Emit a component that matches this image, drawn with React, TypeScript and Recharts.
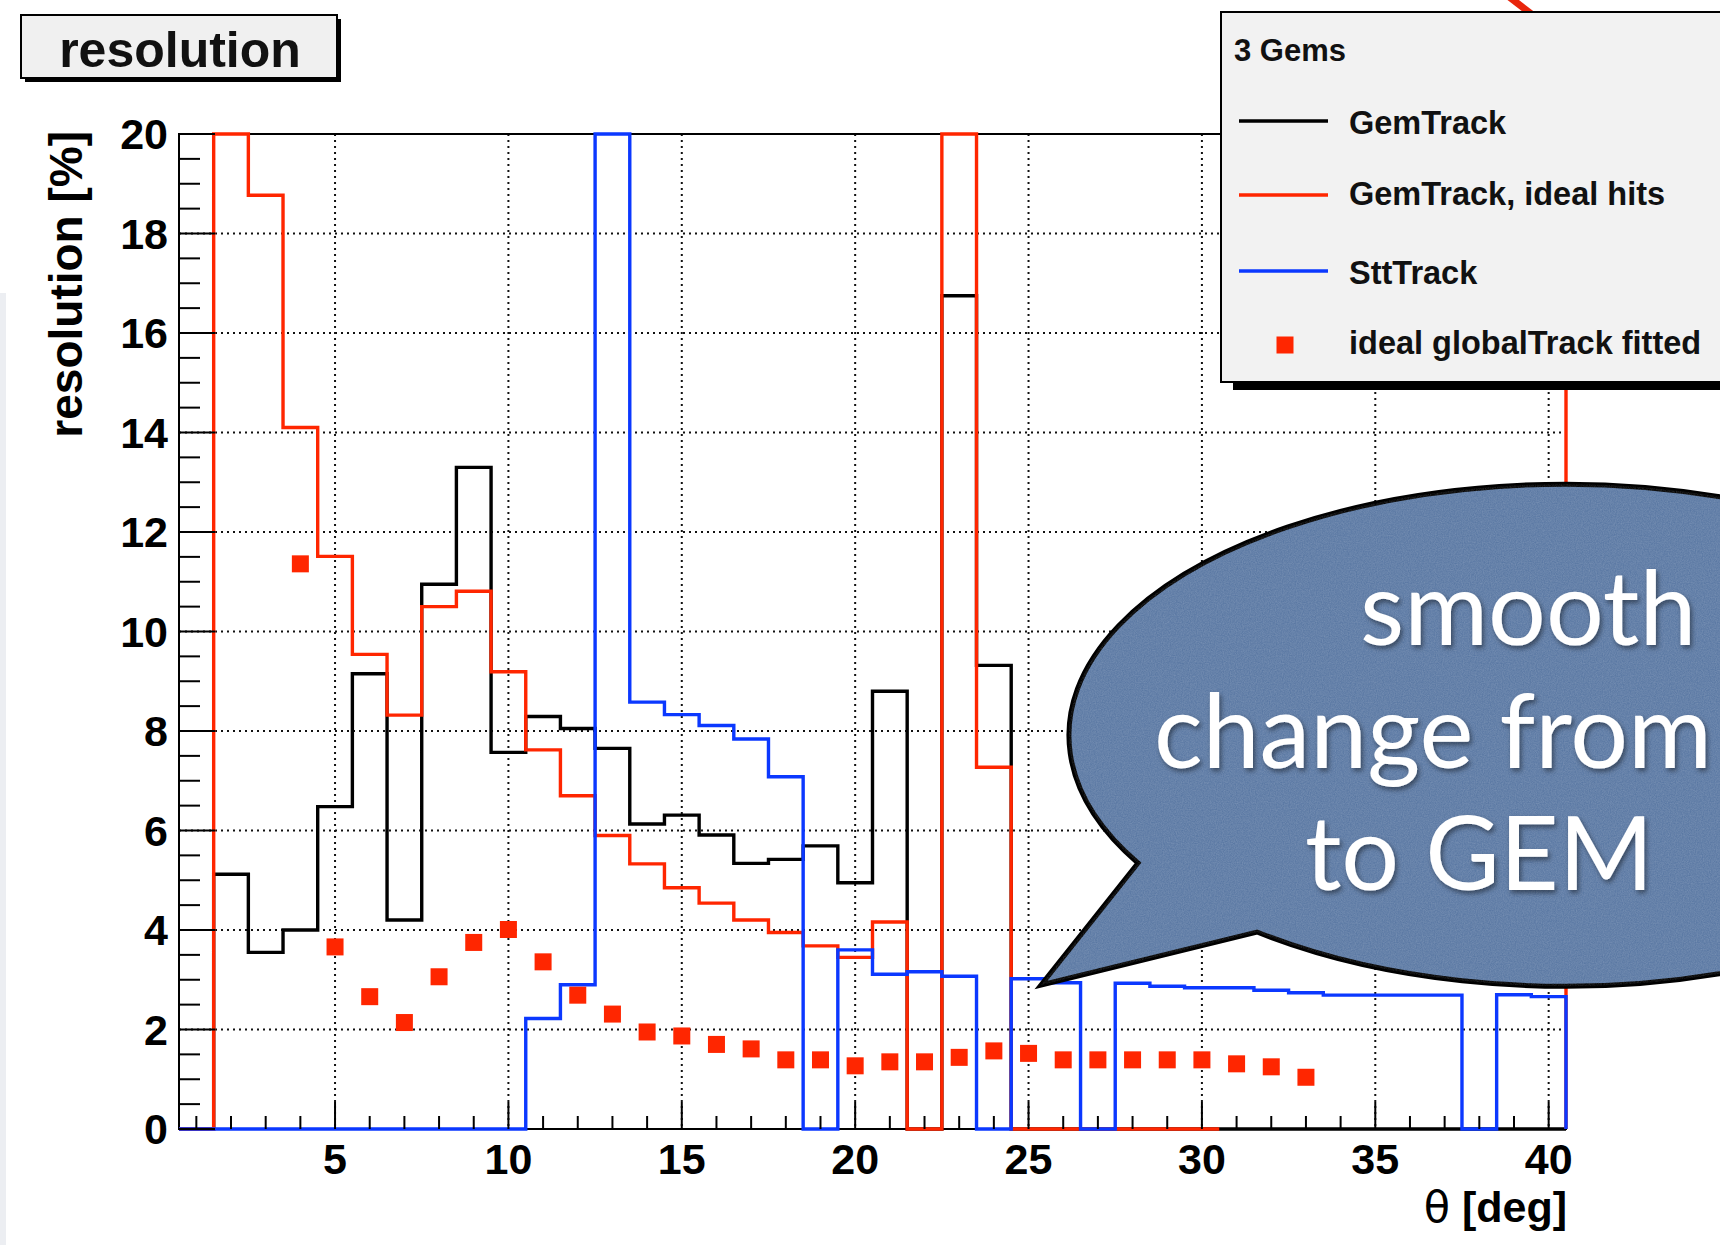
import React from "react";
import {
  ComposedChart,
  Line,
  Scatter,
  XAxis,
  YAxis,
  CartesianGrid,
  ReferenceArea,
  Legend,
} from "recharts";

// theta bin centres (1 deg bins from 0.5 to 40.5)
const thetaBins = [
  1, 2, 3, 4, 5, 6, 7, 8, 9, 10, 11, 12, 13, 14, 15, 16, 17, 18, 19, 20,
  21, 22, 23, 24, 25, 26, 27, 28, 29, 30, 31, 32, 33, 34, 35, 36, 37, 38, 39, 40,
];

// resolution [%] per bin, values above the frame are drawn at 20
const gemTrack = [
  0, 5.12, 3.55, 4.0, 6.48, 9.15, 4.2, 10.95, 13.3, 7.57,
  8.29, 8.05, 7.65, 6.13, 6.31, 5.91, 5.34, 5.42, 5.69, 4.95,
  8.8, 0, 16.75, 9.32, 0, 0, 0, 0, 0, 0,
  0, 0, 0, 0, 0, 0, 0, 0, 0, 0,
];

const gemTrackIdeal = [
  0, 20, 18.77, 14.1, 11.51, 9.54, 8.32, 10.5, 10.81, 9.19,
  7.62, 6.7, 5.9, 5.33, 4.85, 4.54, 4.2, 3.95, 3.68, 3.45,
  4.16, 0, 20, 7.27, 0, 0, 0, 0, 0, 0,
  null, null, null, null, null, null, null, null, null, 20,
];

const sttTrack = [
  0, 0, 0, 0, 0, 0, 0, 0, 0, 0,
  2.22, 2.9, 20, 8.58, 8.33, 8.11, 7.84, 7.08, 0, 3.6,
  3.11, 3.16, 3.07, 0, 3.02, 2.94, 0, 2.93, 2.87, 2.84,
  2.84, 2.79, 2.74, 2.69, 2.69, 2.69, 2.69, 0, 2.7, 2.66,
];

const fittedTheta = [
  4, 5, 6, 7, 8, 9, 10, 11, 12, 13, 14, 15, 16, 17, 18,
  19, 20, 21, 22, 23, 24, 25, 26, 27, 28, 29, 30, 31, 32, 33,
];
const fittedResolution = [
  11.36, 3.66, 2.66, 2.14, 3.06, 3.75, 4.01, 3.36, 2.69, 2.31, 1.95, 1.87, 1.7, 1.61, 1.39,
  1.39, 1.27, 1.35, 1.35, 1.44, 1.57, 1.52, 1.39, 1.39, 1.39, 1.39, 1.39, 1.31, 1.25, 1.04,
];

const xTicks = thetaBins;
const xLabelTicks = [5, 10, 15, 20, 25, 30, 35, 40];
const xGrid = [5, 10, 15, 20, 25, 30, 35, 40];
const yTicks = [
  0, 0.5, 1, 1.5, 2, 2.5, 3, 3.5, 4, 4.5, 5, 5.5, 6, 6.5, 7, 7.5, 8, 8.5, 9, 9.5, 10,
  10.5, 11, 11.5, 12, 12.5, 13, 13.5, 14, 14.5, 15, 15.5, 16, 16.5, 17, 17.5, 18, 18.5, 19, 19.5, 20,
];
const yLabelTicks = [0, 2, 4, 6, 8, 10, 12, 14, 16, 18, 20];
const yGrid = [2, 4, 6, 8, 10, 12, 14, 16, 18];

const FONT = '"Liberation Sans", Arial, Helvetica, sans-serif';
const BLACK = "#000000";
const RED = "#ff2600";
const BLUE = "#0b38ff";

const series = [
  { name: "GemTrack", values: gemTrack, color: BLACK },
  { name: "GemTrack, ideal hits", values: gemTrackIdeal, color: RED },
  { name: "SttTrack", values: sttTrack, color: BLUE },
];

// ROOT-like histogram outline: one point per lower bin edge, drawn with stepAfter
function histOutline(values: (number | null)[]) {
  const pts: { x: number; y: number | null }[] = [];
  values.forEach((v, i) => {
    const lo = thetaBins[i] - 0.5;
    const prev = i > 0 ? values[i - 1] : null;
    if (v === null) {
      if (prev !== null) {
        pts.push({ x: lo, y: prev });
        pts.push({ x: lo, y: null });
      }
      return;
    }
    pts.push({ x: lo, y: v });
  });
  const last = values[values.length - 1];
  const hi = thetaBins[thetaBins.length - 1] + 0.5;
  if (last !== null) {
    pts.push({ x: hi, y: last });
    pts.push({ x: hi, y: 0 });
  }
  return pts;
}

const fittedData = fittedTheta.map((x, i) => ({ x, y: fittedResolution[i] }));

const XTick = (props: any) => {
  const { x, y, payload } = props;
  const major = xLabelTicks.includes(payload.value);
  return (
    <g>
      <line x1={x} x2={x} y1={y} y2={y - (major ? 27 : 13)} stroke="#000" strokeWidth={2} />
      {major && (
        <text x={x} y={y + 45} textAnchor="middle" fontFamily={FONT} fontWeight="bold" fontSize={43} fill="#000">
          {payload.value}
        </text>
      )}
    </g>
  );
};

const YTick = (props: any) => {
  const { x, y, payload } = props;
  const major = yLabelTicks.includes(payload.value);
  return (
    <g>
      <line x1={x} x2={x + (major ? 36 : 21)} y1={y} y2={y} stroke="#000" strokeWidth={2} />
      {major && (
        <text x={x - 11} y={y + 15} textAnchor="end" fontFamily={FONT} fontWeight="bold" fontSize={43} fill="#000">
          {payload.value}
        </text>
      )}
    </g>
  );
};

const Square = (props: any) => {
  const { cx, cy } = props;
  return <rect x={cx - 8.5} y={cy - 8.5} width={17} height={17} fill={RED} />;
};

const legendRows = [110, 184, 260];
const legendText = [123, 194, 273];

const renderLegend = () => (
  <div
    style={{
      position: "relative",
      width: 520,
      height: 372,
      boxSizing: "border-box",
      background: "#f2f2f2",
      border: "2px solid #000",
      boxShadow: "13px 7px 0 #000",
    }}
  >
    <svg width={520} height={372} style={{ position: "absolute", left: -2, top: -2 }}>
      <text x={14} y={50} fontFamily={FONT} fontWeight="bold" fontSize={31} fill="#111">
        3 Gems
      </text>
      {series.map((s, i) => (
        <g key={s.name}>
          <line x1={19} x2={108} y1={legendRows[i]} y2={legendRows[i]} stroke={s.color} strokeWidth={3.4} />
          <text x={129} y={legendText[i]} fontFamily={FONT} fontWeight="bold" fontSize={32.5} fill="#111">
            {s.name}
          </text>
        </g>
      ))}
      <rect x={56.5} y={325.5} width={17} height={17} fill={RED} />
      <text x={129} y={343} fontFamily={FONT} fontWeight="bold" fontSize={32.5} fill="#111">
        ideal globalTrack fitted
      </text>
    </svg>
  </div>
);

export default function App() {
  return (
    <div
      style={{
        position: "absolute",
        left: 0,
        top: 0,
        width: 1720,
        height: 1245,
        overflow: "hidden",
        background: "#ffffff",
      }}
    >
      {/* slide background bits */}
      <svg width={1720} height={1245} style={{ position: "absolute", left: 0, top: 0 }}>
        <rect x={0} y={293} width={6} height={952} fill="#eceef2" />
        <line x1={1508} y1={-4} x2={1534} y2={16} stroke="#e8260c" strokeWidth={7} />
      </svg>

      <div style={{ position: "absolute", left: 0, top: 0 }}>
        <ComposedChart width={1720} height={1245} margin={{ top: 134, right: 154, bottom: 0, left: 0 }}>
          <CartesianGrid
            horizontalValues={yGrid}
            verticalValues={xGrid}
            stroke="#111"
            strokeWidth={2}
            strokeDasharray="2 4"
          />
          <XAxis
            type="number"
            dataKey="x"
            domain={[0.5, 40.5]}
            ticks={xTicks}
            interval={0}
            height={116}
            tickSize={0}
            tickMargin={0}
            axisLine={false}
            tickLine={false}
            tick={<XTick />}
            label={{
              content: (p: any) => (
                <text
                  x={p.viewBox.x + p.viewBox.width + 1}
                  y={p.viewBox.y + 93}
                  textAnchor="end"
                  fontFamily={FONT}
                  fontWeight="bold"
                  fontSize={43}
                  fill="#000"
                >
                  <tspan fontWeight="normal" fontFamily='"DejaVu Sans", sans-serif'>θ</tspan> [deg]
                </text>
              ),
            }}
          />
          <YAxis
            type="number"
            dataKey="y"
            domain={[0, 20]}
            ticks={yTicks}
            interval={0}
            width={179}
            tickSize={0}
            tickMargin={0}
            axisLine={false}
            tickLine={false}
            tick={<YTick />}
            label={{
              content: (p: any) => (
                <text
                  transform={`translate(${p.viewBox.x + 82},${p.viewBox.y - 3}) rotate(-90)`}
                  textAnchor="end"
                  fontFamily={FONT}
                  fontWeight="bold"
                  fontSize={46}
                  fill="#000"
                >
                  resolution [%]
                </text>
              ),
            }}
          />
          <ReferenceArea x1={0.5} x2={40.5} y1={0} y2={20} fill="none" stroke="#000" strokeWidth={2} />
          {series.map((s) => (
            <Line
              key={s.name}
              data={histOutline(s.values)}
              dataKey="y"
              name={s.name}
              type="stepAfter"
              stroke={s.color}
              strokeWidth={3.4}
              strokeLinejoin="miter"
              dot={false}
              activeDot={false}
              isAnimationActive={false}
            />
          ))}
          <Scatter
            name="ideal globalTrack fitted"
            data={fittedData}
            dataKey="y"
            fill={RED}
            shape={<Square />}
            isAnimationActive={false}
          />
          <Legend
            layout="horizontal"
            verticalAlign="middle"
            align="center"
            content={renderLegend}
            wrapperStyle={{ left: 1220, top: 11, width: 520, height: 372 }}
          />
        </ComposedChart>
      </div>

      {/* title box and annotation bubble */}
      <svg width={1720} height={1245} style={{ position: "absolute", left: 0, top: 0, pointerEvents: "none" }}>
        <defs>
          <filter id="grain" x="0" y="0" width="100%" height="100%">
            <feTurbulence type="fractalNoise" baseFrequency="0.85" numOctaves="2" seed="4" result="n" />
            <feColorMatrix in="n" type="matrix" values="0 0 0 0 1  0 0 0 0 1  0 0 0 0 1  0 0 0 0.22 -0.04" />
            <feComposite in2="SourceGraphic" operator="in" />
          </filter>
          <filter id="txtShadow" x="-10%" y="-20%" width="120%" height="150%">
            <feDropShadow dx="2" dy="3" stdDeviation="2.5" floodColor="#000" floodOpacity="0.45" />
          </filter>
        </defs>

        <rect x={25} y={19} width={316} height={63} fill="#000" />
        <rect x={21} y={15} width={316} height={63} fill="#f0f0f0" stroke="#000" strokeWidth={2} />
        <text x={180} y={67} textAnchor="middle" fontFamily={FONT} fontWeight="bold" fontSize={50} fill="#111">
          resolution
        </text>

        <path
          d="M 1138 863 L 1041 985 L 1257 932 A 496 251 0 1 0 1138 863 Z"
          fill="#5a78a3"
          stroke="#000"
          strokeWidth={5}
          strokeLinejoin="miter"
        />
        <path d="M 1138 863 L 1041 985 L 1257 932 A 496 251 0 1 0 1138 863 Z" fill="#5a78a3" filter="url(#grain)" />
        <g fontFamily='Lato, "Open Sans", sans-serif' fontSize={102} fill="#ffffff" filter="url(#txtShadow)">
          <text x={1360} y={645}>smooth</text>
          <text x={1154} y={768}>change from STT</text>
          <text x={1305} y={890}>to GEM</text>
        </g>
      </svg>
    </div>
  );
}
